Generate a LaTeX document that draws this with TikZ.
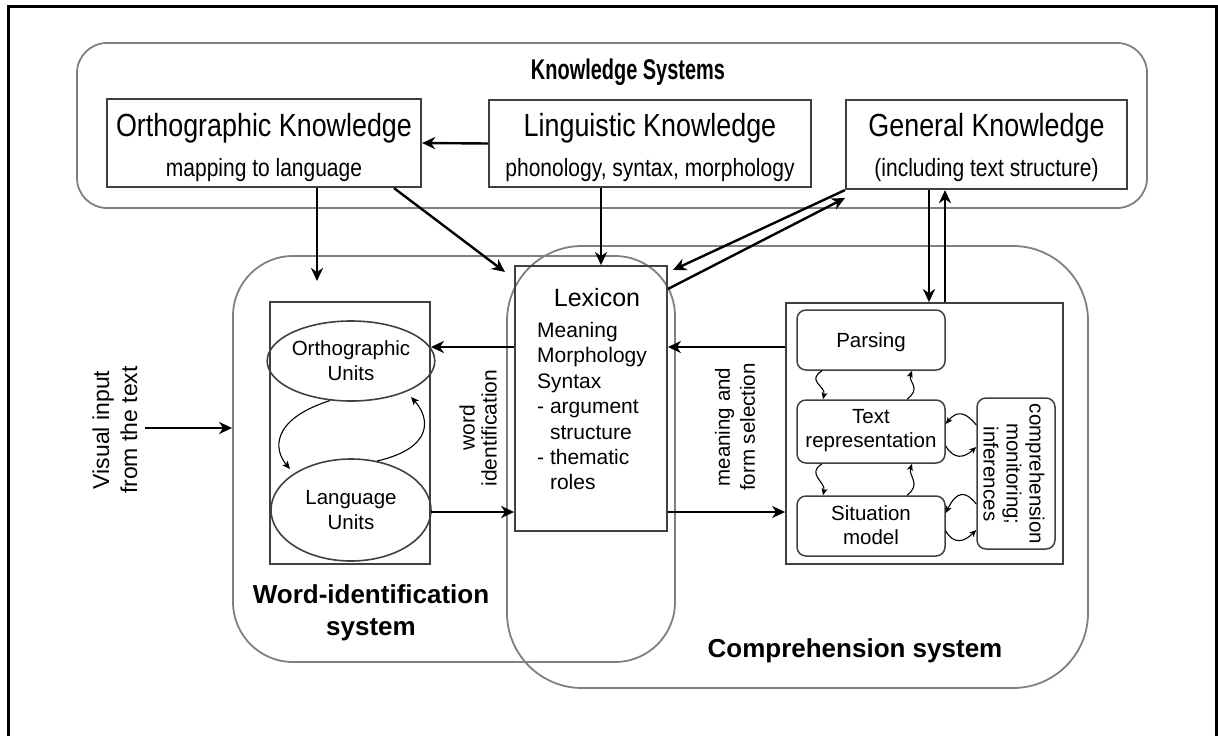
\documentclass[tikz,border=0pt]{standalone}
\usepackage{fontspec}
\setmainfont{Liberation Sans}
\newfontfamily\narrowfont[FakeStretch=0.84]{Liberation Sans}
\newfontfamily\headfont[FakeStretch=0.7]{Liberation Sans}
\usetikzlibrary{arrows.meta,shapes.geometric}

\begin{document}
\begin{tikzpicture}[x=1pt,y=-1pt,
  sysbox/.style={draw=black!50, line width=1.8, rounded corners=#1},
  kbox/.style={draw=black!75, line width=2.2, inner sep=0},
  ibox/.style={draw=black!75, line width=1.8, inner sep=0},
  stage/.style={draw=black!75, line width=1.5, rounded corners=9, inner sep=0},
  unit/.style={ellipse, draw=black!75, line width=1.6, inner sep=0,
               minimum width=160, align=center,
               font=\fontsize{20.5}{25}\selectfont},
  ktitle/.style={font=\narrowfont\fontsize{32}{36}\selectfont, inner sep=0},
  ksub/.style={font=\narrowfont\fontsize{25}{30}\selectfont, inner sep=0},
  lowtext/.style={font=\fontsize{20.5}{24}\selectfont, align=center, inner sep=0},
  systitle/.style={font=\bfseries\fontsize{26}{32}\selectfont, align=center, inner sep=0},
  arr/.style={line width=2.4, -{Stealth[length=13, width=12, inset=4]}},
  carr/.style={line width=1.1, -{Stealth[length=8, width=7, inset=2]}},
  sarr/.style={line width=1.1, -{Stealth[length=7, width=6, inset=2]}}
]
\useasboundingbox (0,0) rectangle (1218,736);

% outer frame (open at the bottom)
\draw[line width=3] (8,736) -- (8,6) -- (1216,6) -- (1216,736);

% ---------- knowledge systems ----------
\node[sysbox=30, minimum width=1070, minimum height=165] (ksys) at (612,125.5) {};
\node[font=\headfont\bfseries\fontsize{28.5}{32}\selectfont, inner sep=0] (ksystitle) at (628,72) {Knowledge Systems};

\node[kbox, minimum width=314, minimum height=88] (ok) at (264,143) {};
\node[ktitle] (oktitle) at (264,128) {Orthographic Knowledge};
\node[ksub]   (oksub)   at (264,170) {mapping to language};

\node[kbox, minimum width=322, minimum height=87] (lk) at (650,143.5) {};
\node[ktitle] (lktitle) at (650,128) {Linguistic Knowledge};
\node[ksub]   (lksub)   at (650,170) {phonology, syntax, morphology};

\node[kbox, minimum width=281, minimum height=89] (gk) at (986.5,144.5) {};
\node[ktitle] (gktitle) at (986.5,128) {General Knowledge};
\node[ksub]   (gksub)   at (986.5,170) {(including text structure)};

% ---------- word identification and comprehension systems ----------
\node[sysbox=60, minimum width=442, minimum height=406] (wid) at (454,459) {};
\node[sysbox=75, minimum width=581, minimum height=442] (comp) at (797.5,467) {};

\node[systitle] (widtitle) at (371,613) {Word-identification\\system};
\node[systitle] (comptitle) at (855,651) {Comprehension system};

% word units
\node[ibox, minimum width=160, minimum height=262] (lbox) at (350,433) {};
\node[unit, minimum height=80] (oku) at (351,361) {Orthographic\\Units};
\node[unit, minimum height=102] (lgu) at (351,510) {Language\\Units};

% lexicon
\node[ibox, minimum width=152, minimum height=265] (lex) at (591,398.5) {};
\node[font=\fontsize{25}{30}\selectfont, inner sep=0] (lextitle) at (597,298) {Lexicon};
\node[font=\fontsize{21}{25.4}\selectfont, align=left, inner sep=0, anchor=north west]
  (lexbody) at (537,322)
  {Meaning\\Morphology\\Syntax\\- argument\\\phantom{- }structure\\- thematic\\\phantom{- }roles};

% comprehension stages
\node[ibox, minimum width=277, minimum height=261] (rbox) at (924.5,433.5) {};
\node[stage, minimum width=148, minimum height=60] (pars) at (871,340) {};
\node[lowtext] (parstext) at (871,342) {Parsing};
\node[stage, minimum width=148, minimum height=63] (trep) at (871,431.5) {};
\node[lowtext] (treptext) at (871,431) {Text\\representation};
\node[stage, minimum width=148, minimum height=60] (sit) at (871,526) {};
\node[lowtext] (sittext) at (871,525) {Situation\\model};
\node[stage, minimum width=78, minimum height=151] (mon) at (1016,473.5) {};
\node[lowtext, rotate=-90, font=\fontsize{20.5}{23}\selectfont] (montext) at (1014,474)
  {comprehension\\monitoring;\\inferences};

% rotated connector labels
\node[lowtext, rotate=90, font=\fontsize{21}{22}\selectfont] (wordid) at (478,428) {word\\identification};
\node[lowtext, rotate=90, font=\fontsize{20.5}{25}\selectfont] (mfsel) at (735,427) {meaning and\\form selection};
\node[lowtext, rotate=90, font=\fontsize{23}{28}\selectfont] (visual) at (115,430) {Visual input\\from the text};

% ---------- connectors ----------
\coordinate (rowA) at (0,347);
\coordinate (rowB) at (0,512);
\coordinate (visstart) at (145,428);
\coordinate (okdown) at (317,281);
\coordinate (okdiag) at (505,272);
\coordinate (gkin) at (845,198);
\coordinate (lexin) at (673,270);

\draw[arr] (lk.west) -- (ok.east);
\draw[arr] (ok.south -| okdown) -- (okdown);
\draw[arr] (ok.south -| 394,0) -- (okdiag);
\draw[arr] (lk.south -| 601,0) -- (lex.north -| 601,0);
\draw[arr] (gk.south west) -- (lexin);
\draw[arr] (lex.north east |- 0,289) -- (gkin);
\draw[arr] (gk.south -| 929,0) -- (rbox.north -| 929,0);
\draw[arr] (rbox.north -| 945,0) -- (gk.south -| 945,0);

\draw[arr] (visstart) -- (wid.west |- visstart);
\draw[arr] (lex.west |- rowA) -- (lbox.east |- rowA);
\draw[arr] (lbox.east |- rowB) -- (lex.west |- rowB);
\draw[arr] (rbox.west |- rowA) -- (lex.east |- rowA);
\draw[arr] (lex.east |- rowB) -- (rbox.west |- rowB);

% loops between the word units
\draw[carr] (oku.-118) .. controls (270,420) and (274,450) .. (290,469);
\draw[carr] (lgu.62) .. controls (434,448) and (430,418) .. (411,397);

% loops between the comprehension stages
\draw[sarr] (pars.south -| 822,0) .. controls (806,381) and (826,386) .. (trep.north -| 823,0);
\draw[sarr] (trep.north -| 907,0) .. controls (922,388) and (908,382) .. (pars.south -| 912,0);
\draw[sarr] (trep.south -| 822,0) .. controls (806,474) and (826,482) .. (sit.north -| 823,0);
\draw[sarr] (sit.north -| 907,0) .. controls (922,484) and (908,476) .. (trep.south -| 912,0);

% loops with comprehension monitoring
\draw[sarr] (mon.west |- 0,425) .. controls (966,412) and (957,410) .. (trep.east |- 0,424);
\draw[sarr] (trep.east |- 0,446) .. controls (954,460) and (964,458) .. (mon.west |- 0,447);
\draw[sarr] (mon.west |- 0,504) .. controls (966,491) and (957,490) .. (sit.east |- 0,513);
\draw[sarr] (sit.east |- 0,531) .. controls (954,545) and (964,542) .. (mon.west |- 0,530);
\end{tikzpicture}
\end{document}
